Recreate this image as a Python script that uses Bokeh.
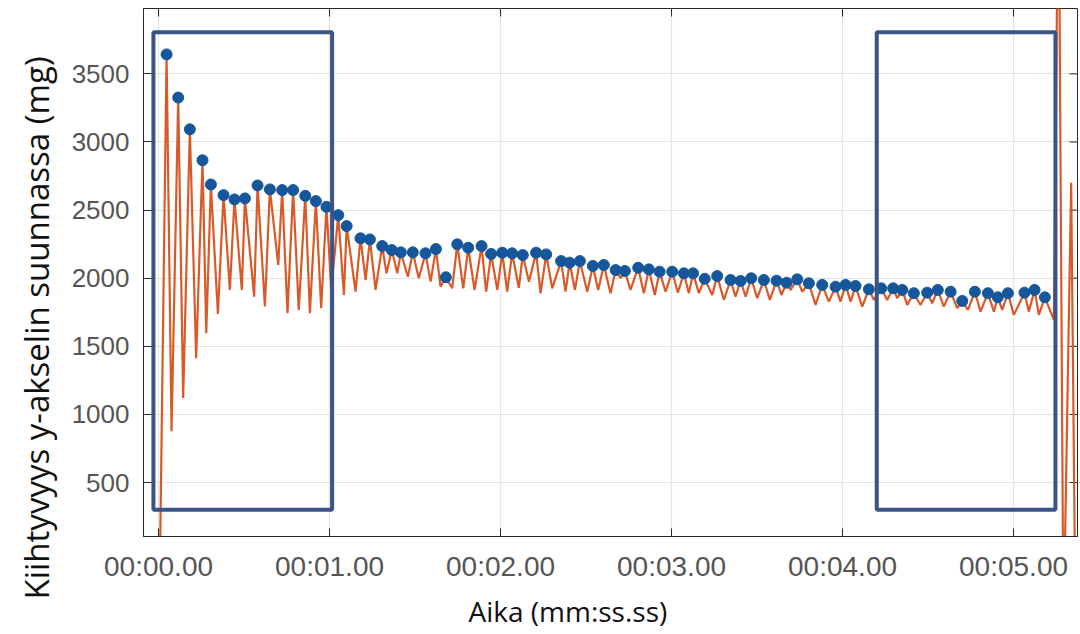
from bokeh.plotting import figure
from bokeh.models import Range1d, FixedTicker, Title
from bokeh.embed import file_html
from bokeh.resources import INLINE

# ---- data (time in seconds, acceleration in mg) ----
peak_t = [0.047, 0.115, 0.183, 0.257, 0.306, 0.380, 0.444, 0.505, 0.579, 0.651,
          0.723, 0.787, 0.858, 0.920, 0.982, 1.051, 1.100, 1.181, 1.236, 1.308,
          1.364, 1.417, 1.487, 1.561, 1.622, 1.680, 1.747, 1.811, 1.889, 1.945,
          2.010, 2.068, 2.130, 2.208, 2.267, 2.354, 2.404, 2.464, 2.540, 2.604,
          2.673, 2.727, 2.805, 2.867, 2.930, 3.004, 3.072, 3.126, 3.194, 3.267,
          3.345, 3.404, 3.466, 3.540, 3.614, 3.673, 3.735, 3.803, 3.881, 3.959,
          4.018, 4.076, 4.154, 4.226, 4.296, 4.349, 4.417, 4.495, 4.557, 4.632,
          4.700, 4.774, 4.850, 4.908, 4.967, 5.064, 5.123, 5.183]
peak_v = [3643, 3326, 3093, 2866, 2688, 2610, 2578, 2586, 2681, 2652,
          2647, 2647, 2605, 2566, 2524, 2463, 2383, 2293, 2285, 2236,
          2207, 2190, 2190, 2183, 2214, 2007, 2249, 2224, 2236, 2178,
          2187, 2183, 2170, 2187, 2175, 2126, 2114, 2126, 2090, 2097,
          2060, 2053, 2077, 2065, 2048, 2048, 2036, 2036, 1996, 2016,
          1987, 1980, 2000, 1987, 1982, 1967, 1992, 1963, 1951, 1938,
          1951, 1943, 1919, 1926, 1926, 1914, 1890, 1894, 1914, 1901,
          1833, 1901, 1890, 1860, 1890, 1894, 1914, 1860]
trough_t = [0.076, 0.144, 0.220, 0.279, 0.347, 0.417, 0.487, 0.559, 0.622, 0.700,
            0.754, 0.820, 0.885, 0.951, 1.010, 1.084, 1.152, 1.211, 1.269, 1.333,
            1.396, 1.458, 1.522, 1.591, 1.649, 1.717, 1.782, 1.848, 1.916, 1.981,
            2.039, 2.107, 2.166, 2.234, 2.302, 2.380, 2.435, 2.507, 2.571, 2.643,
            2.702, 2.760, 2.838, 2.902, 2.965, 3.037, 3.101, 3.160, 3.238, 3.306,
            3.374, 3.433, 3.501, 3.575, 3.643, 3.696, 3.764, 3.842, 3.920, 3.988,
            4.047, 4.115, 4.183, 4.261, 4.320, 4.378, 4.456, 4.524, 4.592, 4.671,
            4.733, 4.807, 4.885, 4.934, 5.002, 5.089, 5.148, 5.236]
trough_v = [876, 1120, 1413, 1597, 1738, 1914, 1914, 1865, 1792, 2097,
            1743, 1767, 1743, 1780, 1914, 1877, 1901, 1987, 1914, 2036,
            2036, 2011, 2000, 1975, 1938, 1926, 1926, 1914, 1901, 1914,
            1901, 1930, 1975, 1890, 1926, 1901, 1914, 1901, 1914, 1890,
            2000, 1914, 1890, 1877, 1901, 1894, 1890, 1890, 1877, 1841,
            1865, 1865, 1853, 1841, 1877, 1914, 1901, 1804, 1828, 1828,
            1828, 1792, 1841, 1841, 1853, 1804, 1804, 1816, 1792, 1780,
            1767, 1755, 1755, 1767, 1731, 1755, 1731, 1694]
head_t = [0.005]
head_v = [-400]
tail_t = [5.263, 5.292, 5.337, 5.363]
tail_v = [5200, -600, 2700, -600]

box_left = [-0.030, 4.200]
box_right = [1.015, 5.245]
box_bottom = [300, 300]
box_top = [3805, 3805]

x_ticks = [0, 1, 2, 3, 4, 5]
x_tick_labels = ["00:00.00", "00:01.00", "00:02.00", "00:03.00", "00:04.00", "00:05.00"]
y_ticks = [500, 1000, 1500, 2000, 2500, 3000, 3500]
x_title = "Aika (mm:ss.ss)"
y_title = "Kiihtyvyys y-akselin suunnassa (mg)"

# ---- build signal line from peaks and troughs ----
line_t = list(head_t)
line_v = list(head_v)
for pt, pv, tt, tv in zip(peak_t, peak_v, trough_t, trough_v):
    line_t += [pt, tt]
    line_v += [pv, tv]
line_t += tail_t
line_v += tail_v

W, H = 1080, 634
ML, MR, MT, MB = 143, 3, 8, 97
x_range = Range1d(-0.088, 5.374)
y_range = Range1d(104, 3980)

p = figure(width=W, height=H, output_backend="svg", toolbar_location=None,
           x_range=x_range, y_range=y_range,
           min_border_left=ML, min_border_right=MR, min_border_top=MT,
           min_border_bottom=MB)
p.background_fill_color = "white"
p.border_fill_color = "white"
p.outline_line_color = "#262626"
p.outline_line_width = 1

xa = p.xaxis[0]
ya = p.yaxis[0]
xa.ticker = FixedTicker(ticks=x_ticks)
xa.major_label_overrides = {t: s for t, s in zip(x_ticks, x_tick_labels)}
ya.ticker = FixedTicker(ticks=y_ticks)
for ax in (xa, ya):
    ax.axis_line_color = "#262626"
    ax.major_tick_in = 8
    ax.major_tick_out = 0
    ax.major_tick_line_color = "#262626"
    ax.minor_tick_line_color = None
    ax.major_label_text_color = "#555555"
    ax.major_label_text_font = "Liberation Sans"

xa.major_label_text_font_size = "28px"
xa.major_label_standoff = 14
ya.major_label_text_font_size = "26px"
ya.major_label_standoff = 14

p.xgrid.grid_line_color = "#e3e3e3"
p.ygrid.grid_line_color = "#e3e3e3"
p.xgrid.grid_line_width = 1.2
p.ygrid.grid_line_width = 1.2

# inward tick marks on the top and right edges (box style)
frame_w = W - ML - MR
frame_h = H - MT - MB
dx = 8 * (x_range.end - x_range.start) / frame_w
dy = 8 * (y_range.end - y_range.start) / frame_h
p.segment(x0=x_ticks, x1=x_ticks, y0=[y_range.end] * len(x_ticks),
          y1=[y_range.end - dy] * len(x_ticks), line_color="#262626", line_width=1)
p.segment(x0=[x_range.end] * len(y_ticks), x1=[x_range.end - dx] * len(y_ticks),
          y0=y_ticks, y1=y_ticks, line_color="#262626", line_width=1)

p.line(line_t, line_v, line_color="#d95a28", line_width=2.2)
p.scatter(peak_t, peak_v, size=11, fill_color="#15579a", line_color="#15579a")
p.quad(left=box_left, right=box_right, bottom=box_bottom, top=box_top,
       fill_color=None, line_color="#3a5485", line_width=4)

# axis titles as side titles so they can be shifted like in the original
p.add_layout(Title(text=x_title, align="left", offset=468 - ML, standoff=10,
                   text_font="Open Sans", text_font_size="28px",
                   text_font_style="normal", text_color="#111111"), "below")
p.add_layout(Title(text=y_title, align="left", offset=(H - MB) - 600, standoff=20,
                   text_font="Open Sans", text_font_size="33px",
                   text_font_style="normal", text_color="#111111"), "left")

open("out.html", "w").write(file_html(p, INLINE))
